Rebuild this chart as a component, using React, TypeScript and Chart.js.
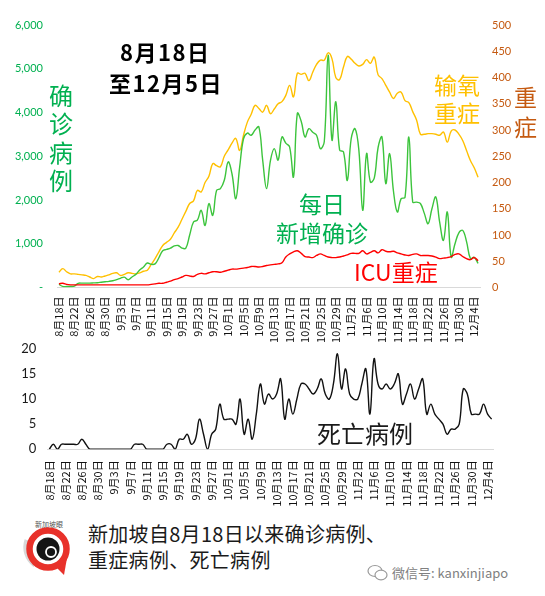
import React, { useEffect, useRef } from 'react';
import { Chart, registerables } from 'chart.js';
Chart.register(...registerables);

// Category labels: 8月18日 .. 12月5日
const MONTH_SPANS: number[][] = [[8, 18, 31], [9, 1, 30], [10, 1, 31], [11, 1, 30], [12, 1, 5]];
const dateLabels: string[] = [];
for (const [m, s, e] of MONTH_SPANS) for (let d = s; d <= e; d++) dateLabels.push(`${m}月${d}日`);

// 每日新增确诊 (left axis)
const dailyCases = [
  70, 25, 22, 22, 30, 95, 100, 100, 100, 105,
  110, 120, 130, 140, 155, 180, 210, 236, 176, 240,
  300, 400, 470, 560, 530, 540, 680, 840, 870, 900,
  950, 960, 900, 900, 1200, 1496, 1540, 1763, 1420, 1916,
  1650, 2220, 2260, 2450, 2870, 2600, 2030, 2750, 3400, 3530,
  3480, 3600, 3670, 2900, 2260, 2900, 3175, 2910, 3440, 3300,
  3210, 2530, 3980, 3800, 3440, 3630, 3550, 3480, 3175, 3330,
  5310, 3370, 4245, 3140, 3100, 2450, 3400, 3630, 3140, 1763,
  3060, 2410, 2500, 3200, 3440, 2375, 3060, 2200, 1725, 2030,
  2060, 3440, 1955, 1950, 1920, 1700, 1460, 1800, 2070, 1500,
  1076, 1725, 694, 1000, 1250, 1305, 1050, 664, 690, 550,
];

// 输氧重症 (right axis)
const oxygenCases = [
  29, 36, 30, 26, 26, 25, 24, 23, 20, 17,
  21, 20, 22, 24, 27, 28, 23, 25, 28, 27,
  26, 28, 31, 33, 44, 55, 68, 80, 86, 92,
  104, 115, 130, 145, 160, 165, 185, 182, 200, 212,
  236, 232, 230, 250, 262, 275, 284, 261, 290, 315,
  330, 347, 341, 334, 347, 331, 340, 350, 354, 366,
  385, 363, 408, 406, 408, 394, 410, 425, 433, 433,
  447, 436, 400, 396, 420, 440, 435, 427, 422, 425,
  434, 427, 439, 405, 398, 385, 372, 360, 370, 372,
  356, 352, 335, 319, 292, 292, 293, 293, 292, 290,
  296, 277, 298, 300, 292, 280, 261, 242, 228, 210,
];

// ICU重症 (right axis)
const icuCases = [
  7, 8, 6, 5, 5, 5, 5, 5, 5, 5,
  5, 5, 5, 5, 5, 5, 5, 5, 5, 5,
  5, 5, 5, 5, 6, 7, 8, 8, 10, 12,
  15, 17, 20, 23, 22, 21, 25, 27, 26, 28,
  30, 30, 29, 31, 33, 35, 35, 36, 37, 38,
  40, 40, 39, 40, 42, 43, 44, 45, 47, 58,
  64, 68, 70, 65, 59, 58, 57, 61, 64, 61,
  58, 57, 57, 58, 60, 62, 65, 65, 65, 70,
  64, 67, 70, 66, 72, 69, 68, 69, 66, 64,
  62, 61, 63, 64, 61, 61, 61, 60, 58, 55,
  56, 57, 59, 63, 64, 59, 55, 53, 57, 51,
];

// 死亡病例
const deaths = [
  0, 1, 0, 1, 1, 1, 1, 1, 2, 1,
  0, 0, 0, 0, 0, 0, 0, 0, 0, 0,
  0, 1, 1, 1, 0, 0, 0, 0, 0, 1,
  1, 0, 2, 2, 3, 1, 2, 6, 3, 0,
  3, 4, 9, 6, 6, 6, 5, 10, 3, 6,
  2, 7, 13, 9, 11, 10, 11, 14, 6, 10,
  7, 10, 13, 13, 12, 11, 12, 14, 11, 10,
  13, 19, 12, 16, 11, 10, 10, 13, 16, 7,
  18, 13, 12, 13, 12, 13, 15, 9, 11, 13,
  10, 12, 14, 7, 9, 7, 6, 5, 3, 4,
  4, 5, 12, 11, 7, 7, 7, 9, 7, 6,
];

const TICK_FONT = "Lato, 'Noto Sans CJK SC', sans-serif";
const XTICK_FONT = "'Noto Sans CJK SC', sans-serif";
const CJK = "'Noto Sans CJK SC', sans-serif";

export default function App() {
  const topRef = useRef<HTMLCanvasElement>(null);
  const botRef = useRef<HTMLCanvasElement>(null);

  useEffect(() => {
    const xTickCb = (_v: any, i: number) => (i % 4 === 0 ? dateLabels[i] : '');
    const top = new Chart(topRef.current!, {
      type: 'line',
      data: {
        labels: dateLabels,
        datasets: [
          { label: 'ICU重症', data: icuCases, yAxisID: 'yR', borderColor: '#ff0000', borderWidth: 1.4 },
          { label: '每日新增确诊', data: dailyCases, yAxisID: 'yL', borderColor: '#3cc43c', borderWidth: 1.4 },
          { label: '输氧重症', data: oxygenCases, yAxisID: 'yR', borderColor: '#ffc000', borderWidth: 1.4 },
        ],
      },
      options: {
        responsive: false,
        animation: false,
        layout: { padding: { top: 25, left: 0, right: 0, bottom: 0 } },
        plugins: { legend: { display: false }, tooltip: { enabled: false } },
        elements: { point: { radius: 0 }, line: { tension: 0.4 } },
        scales: {
          x: {
            type: 'category',
            offset: true,
            grid: { display: false, drawTicks: true, tickLength: 6 },
            border: { display: true, color: '#d9d9d9', width: 1 },
            ticks: {
              autoSkip: false, maxRotation: 90, minRotation: 90, padding: 3,
              color: '#111111', font: { size: 11, family: XTICK_FONT }, callback: xTickCb,
            },
            afterFit: (s: any) => { s.height = 62.5; },
          },
          yL: {
            position: 'left', min: 0, max: 6000,
            grid: { display: false, drawTicks: false },
            border: { display: false },
            ticks: {
              stepSize: 1000, padding: 14, color: '#00b050', font: { size: 11, family: TICK_FONT },
              callback: (v: any) => (Number(v) === 0 ? '-' : Number(v).toLocaleString('en-US')),
            },
            afterFit: (s: any) => { s.width = 57; },
          },
          yR: {
            position: 'right', min: 0, max: 500,
            grid: { display: false, drawTicks: false },
            border: { display: false },
            ticks: { stepSize: 50, padding: 12, color: '#c55a11', font: { size: 11, family: TICK_FONT } },
            afterFit: (s: any) => { s.width = 65; },
          },
        },
      } as any,
    });

    const bot = new Chart(botRef.current!, {
      type: 'line',
      data: {
        labels: dateLabels,
        datasets: [{ label: '死亡病例', data: deaths, borderColor: '#111111', borderWidth: 1.4 }],
      },
      options: {
        responsive: false,
        animation: false,
        layout: { padding: { top: 12.7, left: 0, right: 51.3, bottom: 0 } },
        plugins: { legend: { display: false }, tooltip: { enabled: false } },
        elements: { point: { radius: 0 }, line: { tension: 0.4 } },
        scales: {
          x: {
            type: 'category',
            offset: true,
            grid: { display: false, drawTicks: true, tickLength: 8 },
            border: { display: true, color: '#d9d9d9', width: 1 },
            ticks: {
              autoSkip: false, maxRotation: 90, minRotation: 90, padding: 3,
              color: '#111111', font: { size: 11, family: XTICK_FONT }, callback: xTickCb,
            },
            afterFit: (s: any) => { s.height = 65.7; },
          },
          y: {
            min: 0, max: 20,
            grid: { display: false, drawTicks: false },
            border: { display: false },
            ticks: { stepSize: 5, padding: 11, color: '#1a1a1a', font: { size: 13, family: TICK_FONT } },
            afterFit: (s: any) => { s.width = 47.3; },
          },
        },
      } as any,
    });

    return () => { top.destroy(); bot.destroy(); };
  }, []);

  const abs = (left: number, top: number, extra: React.CSSProperties = {}): React.CSSProperties => ({
    position: 'absolute', left, top, fontFamily: CJK, whiteSpace: 'nowrap', margin: 0, ...extra,
  });

  return (
    <div style={{ position: 'relative', width: 545, height: 596, background: '#ffffff', overflow: 'hidden' }}>
      <style>{'body{margin:0}'}</style>
      <canvas ref={topRef} width={545} height={350} style={{ position: 'absolute', left: 0, top: 0 }} />
      <canvas ref={botRef} width={545} height={185} style={{ position: 'absolute', left: 0, top: 330 }} />

      <div style={abs(120, 40.4, { fontSize: 22, lineHeight: '22px', fontWeight: 700, color: '#000', letterSpacing: 1.5 })}>8月18日</div>
      <div style={abs(109, 70.9, { fontSize: 22, lineHeight: '22px', fontWeight: 700, color: '#000', letterSpacing: 1.5 })}>至12月5日</div>

      <div style={abs(49, 80.5, { fontSize: 24, lineHeight: '28.5px', color: '#00b050' })}>确<br />诊<br />病<br />例</div>
      <div style={abs(299, 192.4, { fontSize: 23, lineHeight: '23px', color: '#00b050' })}>每日</div>
      <div style={abs(276, 221.4, { fontSize: 23, lineHeight: '23px', color: '#00b050' })}>新增确诊</div>
      <div style={abs(434, 69.9, { fontSize: 23, lineHeight: '28px', color: '#ffc000' })}>输氧<br />重症</div>
      <div style={abs(514, 80.9, { fontSize: 23, lineHeight: '30px', color: '#c55a11' })}>重<br />症</div>
      <div style={abs(354, 259.9, { fontSize: 23, lineHeight: '23px', color: '#ff0000' })}>ICU重症</div>
      <div style={abs(317, 420.8, { fontSize: 24, lineHeight: '24px', color: '#1a1a1a' })}>死亡病例</div>

      <svg style={{ position: 'absolute', left: 22, top: 518 }} width={56} height={62}>
        <path d="M5 22 A22 22 0 0 0 13 47" fill="none" stroke="#d8d8d8" strokeWidth={5} />
        <text x={27} y={9} fontSize={7} fill="#555" textAnchor="middle" fontFamily={CJK}>新加坡眼</text>
        <path d="M30 45 L42 57 L45 40 Z" fill="#e8312a" />
        <circle cx={26} cy={31} r={18.5} fill="#ffffff" stroke="#e8312a" strokeWidth={6.5} />
        <circle cx={26} cy={31} r={11.5} fill="#151515" />
        <circle cx={29} cy={34} r={5} fill="none" stroke="#ffffff" strokeWidth={1.8} />
      </svg>
      <div style={abs(88, 520.5, { fontSize: 20, lineHeight: '26px', color: '#1a1a1a', letterSpacing: 0.3 })}>
        新加坡自8月18日以来确诊病例、<br />重症病例、死亡病例
      </div>

      <svg style={{ position: 'absolute', left: 367, top: 564 }} width={22} height={18}>
        <ellipse cx={8} cy={7} rx={7} ry={5.5} fill="none" stroke="#9a9a9a" strokeWidth={1.2} />
        <ellipse cx={14} cy={11} rx={6} ry={4.8} fill="#fff" stroke="#9a9a9a" strokeWidth={1.2} />
      </svg>
      <div style={abs(392, 566, { fontSize: 13, lineHeight: '13px', color: '#808080' })}>微信号: kanxinjiapo</div>
    </div>
  );
}
